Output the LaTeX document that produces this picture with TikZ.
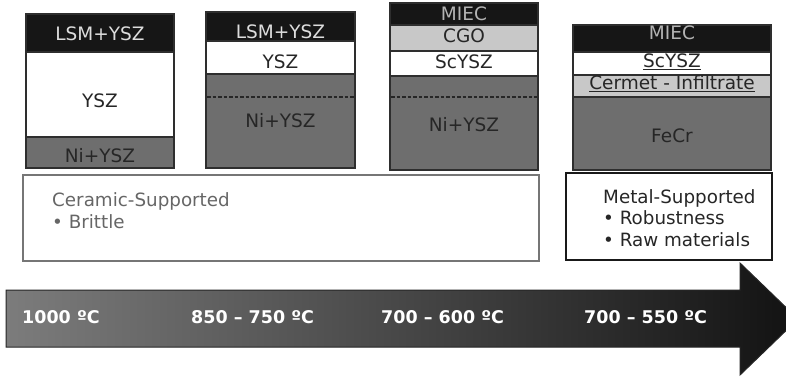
\documentclass[tikz,border=0pt]{standalone}
\usepackage{fontspec}
\setmainfont{DejaVu Sans}
\definecolor{bandblack}{HTML}{161616}
\definecolor{layergray}{HTML}{6E6E6E}
\definecolor{lightlayer}{HTML}{C8C8C8}
\definecolor{edgegray}{HTML}{2E2E2E}
\definecolor{cerborder}{HTML}{767676}
\definecolor{certext}{HTML}{666666}
\definecolor{bandtext}{HTML}{DDDDDD}
\definecolor{miectext}{HTML}{B4B4B4}
\definecolor{arrowleft}{HTML}{7C7C7C}
\definecolor{arrowmid}{HTML}{2E2E2E}
\definecolor{arrowright}{HTML}{121212}
\newcommand\mklayer[5]{\filldraw[layerbox, fill=#5] (#1,#3) rectangle (#2,#4);}
\begin{document}
\begin{tikzpicture}[x=1pt,y=-1pt,
  layerbox/.style={draw=edgegray, line width=1.6pt},
  lbl/.style={anchor=base, inner sep=0pt, font=\fontsize{18.5}{20}\selectfont, text=black!85},
  dlbl/.style={lbl, text=bandtext},
  mlbl/.style={lbl, text=miectext},
  sidetxt/.style={anchor=base west, inner sep=0pt, font=\fontsize{18.3}{20}\selectfont},
  templbl/.style={anchor=base west, inner sep=0pt, font=\bfseries\fontsize{17.5}{20}\selectfont, text=white},
  dashline/.style={dash pattern=on 3.5pt off 2pt, line width=1.3pt, draw=black!85}]
\useasboundingbox (0,0) rectangle (786,377);
\clip (0,0) rectangle (786,377);

% Box 1
\mklayer{26}{174}{14}{52}{bandblack}
\mklayer{26}{174}{52}{137}{white}
\mklayer{26}{174}{137}{168}{layergray}
\node[dlbl] (b1a) at (100,41) {LSM+YSZ};
\node[lbl] (b1b) at (100,107) {YSZ};
\node[lbl] (b1c) at (100,162) {Ni+YSZ};

% Box 2
\mklayer{206}{355}{12}{41}{bandblack}
\mklayer{206}{355}{41}{74}{white}
\mklayer{206}{355}{74}{168}{layergray}
\draw[dashline] (207,97) -- (354,97);
\node[dlbl] (b2a) at (280.5,39) {LSM+YSZ};
\node[lbl] (b2b) at (280.5,69) {YSZ};
\node[lbl] (b2c) at (280.5,128) {Ni+YSZ};

% Box 3
\mklayer{390}{538}{3}{25}{bandblack}
\mklayer{390}{538}{25}{51}{lightlayer}
\mklayer{390}{538}{51}{76}{white}
\mklayer{390}{538}{76}{170}{layergray}
\draw[dashline] (391,97) -- (537,97);
\node[mlbl] (b3a) at (464,21) {MIEC};
\node[lbl] (b3b) at (464,43) {CGO};
\node[lbl] (b3c) at (464,69) {ScYSZ};
\node[lbl] (b3d) at (464,131) {Ni+YSZ};

% Box 4
\mklayer{573}{771}{25}{52}{bandblack}
\mklayer{573}{771}{52}{75}{white}
\mklayer{573}{771}{75}{97}{lightlayer}
\mklayer{573}{771}{97}{170}{layergray}
\node[mlbl] (b4a) at (672,40) {MIEC};
\node[lbl] (b4b) at (672,68) {\underline{ScYSZ}};
\node[lbl] (b4c) at (672,90) {\underline{Cermet - Infiltrate}};
\node[lbl] (b4d) at (672,142) {FeCr};

% Ceramic-supported box
\draw[draw=cerborder, line width=2.6pt] (23,175) rectangle (539,261);
\node[sidetxt, text=certext] (cer1) at (52,206) {Ceramic-Supported};
\node[sidetxt, text=certext] (cer2) at (52,228) {• Brittle};

% Metal-supported box
\draw[draw=black!90, line width=2.6pt] (566,173) rectangle (772,260);
\node[sidetxt, text=black!85] (met1) at (603,203) {Metal-Supported};
\node[sidetxt, text=black!85] (met2) at (603,224) {• Robustness};
\node[sidetxt, text=black!85] (met3) at (603,246) {• Raw materials};

% Temperature arrow
\shade[left color=arrowleft, middle color=arrowmid, right color=arrowright]
  (6,290) -- (740,290) -- (740,263) -- (798,319) -- (740,375) -- (740,347) -- (6,347) -- cycle;
\draw[draw=black!85, line width=1pt]
  (6,290) -- (740,290) -- (740,263) -- (798,319) -- (740,375) -- (740,347) -- (6,347) -- cycle;
\node[templbl] (t1) at (22,323) {1000 ºC};
\node[templbl] (t2) at (191,323) {850 – 750 ºC};
\node[templbl] (t3) at (381,323) {700 – 600 ºC};
\node[templbl] (t4) at (584,323) {700 – 550 ºC};
\end{tikzpicture}
\end{document}
